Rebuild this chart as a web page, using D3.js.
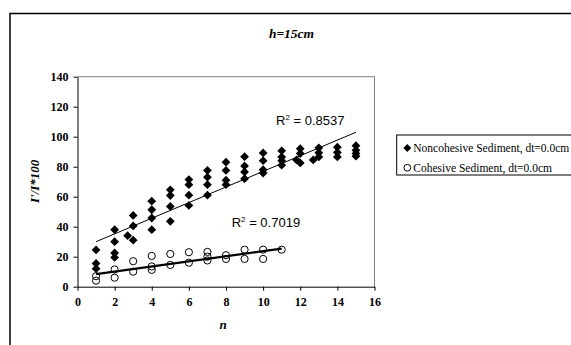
<!DOCTYPE html>
<html>
<head>
<meta charset="utf-8">
<script src="https://cdn.jsdelivr.net/npm/d3@7"></script>
<style>
  body { margin: 0; background: #fff; }
  svg { display: block; }
</style>
</head>
<body>
<svg id="chart" width="571" height="345"></svg>
<script>
// data
const nonN = [1, 1, 1, 2, 2, 2, 2, 2.7, 3, 3, 3, 4, 4, 4, 4, 5, 5, 5, 5, 6, 6, 6, 6,
  7, 7, 7, 7, 8, 8, 8, 8, 9, 9, 9, 9, 10, 10, 10, 10, 11, 11, 11, 11, 11.8,
  12, 12, 12, 12.7, 13, 13, 13, 14, 14, 14, 15, 15, 15, 15];
const nonVal = [24.5, 15.5, 12, 38, 30, 22.5, 19.5, 34, 47.5, 40.5, 31, 57, 51.3, 45.8, 38,
  64.6, 60.8, 53.5, 43.6, 71.4, 68, 61, 54.2, 77.5, 73, 68, 61, 83, 77.5, 71, 68,
  86.7, 80.5, 76.5, 72, 89.2, 84, 78, 75.8, 90.6, 86.5, 84, 81, 84.5,
  92, 88.8, 82.5, 84.5, 92.6, 89.3, 86.5, 93, 89.5, 86.5, 94, 91, 88.8, 87];

const cohN = [1, 1, 2, 2, 3, 3, 4, 4, 4, 5, 5, 6, 6, 7, 7, 7, 8, 8, 9, 9, 10, 10, 11];
const cohVal = [7, 4, 11.5, 6, 17, 10, 20.5, 13.5, 11.2, 21.8, 14.5, 23, 16,
  23.2, 20, 17.5, 21, 18.5, 24.7, 18.5, 24.7, 18.5, 24.7];

// trendlines as drawn (slope, intercept, n range)
const nonTrend = [5.21, 24.8, 1, 15];
const cohTrend = [1.7, 6.7, 1, 11];

const xTicks = [0, 2, 4, 6, 8, 10, 12, 14, 16];
const yTicks = [0, 20, 40, 60, 80, 100, 120, 140];
const legendLabels = ["Noncohesive Sediment, dt=0.0cm", "Cohesive Sediment, dt=0.0cm"];
const r2Labels = ["0.8537", "0.7019"];

const serif = "'Liberation Serif', 'Times New Roman', serif";
const sans = "'Liberation Sans', Arial, sans-serif";

const svg = d3.select("#chart");

// outer chart border (runs off the right and bottom)
svg.append("rect")
  .attr("x", 10).attr("y", 13.5)
  .attr("width", 640).attr("height", 400)
  .attr("fill", "#fff")
  .attr("stroke", "#000")
  .attr("stroke-width", 1.5);

const margin = { left: 77.5, top: 76.7 };
const width = 297, height = 210;

const x = d3.scaleLinear().domain([0, 16]).range([0, width]);
const y = d3.scaleLinear().domain([0, 140]).range([height, 0]);

const g = svg.append("g")
  .attr("transform", `translate(${margin.left},${margin.top})`);

// plot area frame, grey on top/right
g.append("path")
  .attr("d", `M0,0H${width}V${height}`)
  .attr("fill", "none")
  .attr("stroke", "#808080");

// axes
g.append("g")
  .attr("transform", `translate(0,${height})`)
  .call(d3.axisBottom(x).tickValues(xTicks).tickSize(4).tickSizeOuter(0).tickPadding(7))
  .call((a) => a.selectAll("text")
    .style("font-family", serif).style("font-weight", "bold").style("font-size", "12px"));

g.append("g")
  .call(d3.axisLeft(y).tickValues(yTicks).tickSize(4).tickSizeOuter(0).tickPadding(5))
  .call((a) => a.selectAll("text")
    .style("font-family", serif).style("font-weight", "bold").style("font-size", "12px"));

g.selectAll(".domain, .tick line").attr("stroke", "#000");

// trendlines
const trendLine = d3.line().x((d) => x(d[0])).y((d) => y(d[1]));
const trendPts = (t) => [t[2], t[3]].map((n) => [n, t[0] * n + t[1]]);

g.append("path")
  .datum(trendPts(nonTrend))
  .attr("d", trendLine)
  .attr("fill", "none")
  .attr("stroke", "#000")
  .attr("stroke-width", 1);

g.append("path")
  .datum(trendPts(cohTrend))
  .attr("d", trendLine)
  .attr("fill", "none")
  .attr("stroke", "#000")
  .attr("stroke-width", 2.2);

// diamond marker path
const diamond = (s) => `M0,${-s}L${s},0L0,${s}L${-s},0Z`;

g.append("g")
  .selectAll("path")
  .data(nonN.map((n, i) => [n, nonVal[i]]))
  .join("path")
  .attr("d", diamond(4.4))
  .attr("transform", (d) => `translate(${x(d[0])},${y(d[1])})`)
  .attr("fill", "#000");

g.append("g")
  .selectAll("circle")
  .data(cohN.map((n, i) => [n, cohVal[i]]))
  .join("circle")
  .attr("cx", (d) => x(d[0]))
  .attr("cy", (d) => y(d[1]))
  .attr("r", 3.6)
  .attr("fill", "none")
  .attr("stroke", "#000")
  .attr("stroke-width", 1);

// R² labels
const r2 = g.selectAll(".r2")
  .data([[198.5, 48.6, r2Labels[0]], [154.2, 150.3, r2Labels[1]]])
  .join("text")
  .attr("class", "r2")
  .attr("x", (d) => d[0])
  .attr("y", (d) => d[1])
  .style("font-family", sans)
  .style("font-size", "13px");
r2.append("tspan").text("R");
r2.append("tspan").attr("dy", -5).style("font-size", "8px").text("2");
r2.append("tspan").attr("dy", 5).text((d) => " = " + d[2]);

// title and axis titles
svg.append("text")
  .attr("x", 291.5).attr("y", 38.3)
  .attr("text-anchor", "middle")
  .style("font-family", serif).style("font-weight", "bold").style("font-style", "italic")
  .style("font-size", "13.5px")
  .text("h=15cm");

svg.append("text")
  .attr("transform", "translate(38.5,181.3) rotate(-90)")
  .attr("text-anchor", "middle")
  .style("font-family", serif).style("font-weight", "bold").style("font-style", "italic")
  .style("font-size", "13px")
  .text("I'/I*100");

svg.append("text")
  .attr("x", 223).attr("y", 329)
  .attr("text-anchor", "middle")
  .style("font-family", serif).style("font-weight", "bold").style("font-style", "italic")
  .style("font-size", "13px")
  .text("n");

// legend
const legend = svg.append("g").attr("transform", "translate(396.7,135)");
legend.append("rect")
  .attr("width", 260).attr("height", 40)
  .attr("fill", "#fff")
  .attr("stroke", "#000");

const item = legend.selectAll(".item")
  .data(legendLabels)
  .join("g")
  .attr("class", "item")
  .attr("transform", (d, i) => `translate(10.6,${13 + i * 19.7})`);

item.filter((d, i) => i === 0).append("path")
  .attr("d", diamond(4)).attr("fill", "#000");
item.filter((d, i) => i === 1).append("circle")
  .attr("r", 3.4).attr("fill", "none").attr("stroke", "#000");

item.append("text")
  .attr("x", 6)
  .attr("y", 4)
  .style("font-family", serif)
  .style("font-size", "11.5px")
  .text((d) => d);
</script>
</body>
</html>
